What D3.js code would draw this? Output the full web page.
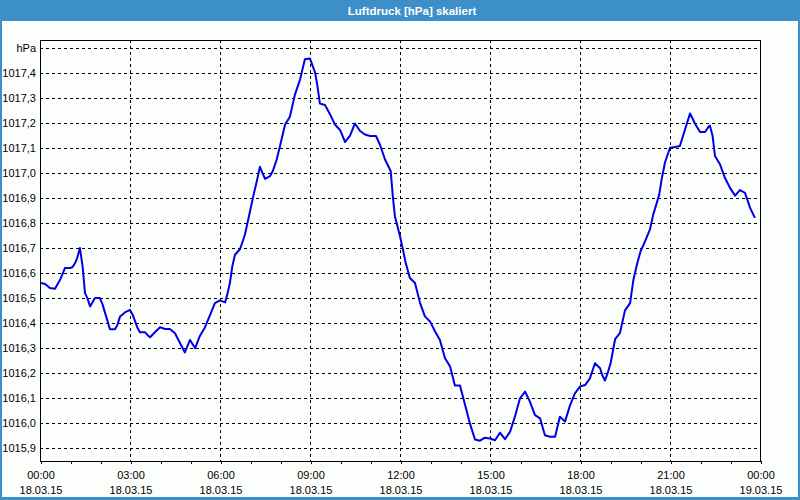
<!DOCTYPE html>
<html><head><meta charset="utf-8">
<script src="https://cdn.jsdelivr.net/npm/d3@7/dist/d3.min.js"></script>
<style>
html,body{margin:0;padding:0;background:#fcfefc;}
svg{display:block;}
text{font-family:"Liberation Sans",Arial,sans-serif;}
</style></head>
<body>
<svg id="c" width="800" height="500"></svg>
<script>
const title = "Luftdruck [hPa] skaliert";
const unitLabel = "hPa";
// hours since 18.03.15 00:00
const hours = [0.03,0.17,0.33,0.5,0.67,0.83,1.0,1.08,1.17,1.24,1.33,1.42,1.5,1.58,1.67,1.83,2.0,2.09,2.17,2.24,2.33,2.5,2.58,2.67,2.83,3.0,3.09,3.17,3.24,3.33,3.5,3.58,3.67,3.83,4.0,4.17,4.33,4.5,4.67,4.83,5.0,5.17,5.33,5.5,5.67,5.83,6.0,6.17,6.24,6.33,6.41,6.5,6.67,6.83,6.94,7.11,7.24,7.33,7.5,7.67,7.76,7.89,8.0,8.17,8.33,8.5,8.67,8.83,9.0,9.17,9.24,9.33,9.5,9.67,9.83,10.0,10.17,10.33,10.5,10.67,10.83,11.0,11.2,11.33,11.5,11.69,11.76,11.83,12.0,12.11,12.19,12.33,12.5,12.67,12.83,13.0,13.17,13.33,13.5,13.67,13.83,14.0,14.17,14.33,14.5,14.67,14.83,15.0,15.17,15.33,15.5,15.67,15.83,16.0,16.17,16.33,16.5,16.67,16.83,17.0,17.17,17.33,17.5,17.67,17.83,18.0,18.17,18.33,18.5,18.67,18.74,18.83,18.92,19.02,19.17,19.33,19.5,19.67,19.78,19.91,20.02,20.17,20.33,20.44,20.56,20.64,20.72,20.83,21.0,21.17,21.33,21.5,21.67,21.83,22.0,22.17,22.26,22.33,22.42,22.5,22.67,22.83,23.0,23.17,23.33,23.5,23.67,23.83];
const pressure = [1016.560,1016.556,1016.540,1016.537,1016.573,1016.620,1016.620,1016.623,1016.640,1016.660,1016.700,1016.627,1016.520,1016.500,1016.467,1016.500,1016.500,1016.473,1016.440,1016.413,1016.376,1016.376,1016.393,1016.427,1016.443,1016.453,1016.433,1016.407,1016.384,1016.364,1016.364,1016.353,1016.344,1016.364,1016.384,1016.377,1016.377,1016.360,1016.320,1016.283,1016.333,1016.300,1016.349,1016.384,1016.433,1016.480,1016.491,1016.483,1016.513,1016.560,1016.627,1016.673,1016.696,1016.753,1016.813,1016.907,1016.973,1017.024,1016.976,1016.987,1017.007,1017.053,1017.107,1017.193,1017.224,1017.313,1017.373,1017.453,1017.456,1017.400,1017.353,1017.276,1017.271,1017.233,1017.193,1017.171,1017.123,1017.147,1017.197,1017.167,1017.153,1017.147,1017.147,1017.113,1017.053,1017.007,1016.907,1016.827,1016.747,1016.687,1016.640,1016.580,1016.560,1016.480,1016.427,1016.407,1016.367,1016.333,1016.260,1016.227,1016.151,1016.151,1016.073,1016.000,1015.936,1015.931,1015.943,1015.940,1015.933,1015.963,1015.937,1015.967,1016.027,1016.100,1016.127,1016.087,1016.033,1016.020,1015.953,1015.947,1015.947,1016.027,1016.007,1016.073,1016.120,1016.147,1016.153,1016.180,1016.240,1016.220,1016.193,1016.171,1016.200,1016.240,1016.336,1016.360,1016.451,1016.480,1016.573,1016.640,1016.687,1016.727,1016.773,1016.833,1016.880,1016.913,1016.973,1017.040,1017.100,1017.103,1017.107,1017.173,1017.237,1017.197,1017.163,1017.163,1017.180,1017.189,1017.147,1017.067,1017.033,1016.980,1016.940,1016.909,1016.931,1016.920,1016.860,1016.820];
const yTicks = [1015.9,1016.0,1016.1,1016.2,1016.3,1016.4,1016.5,1016.6,1016.7,1016.8,1016.9,1017.0,1017.1,1017.2,1017.3,1017.4,1017.5];
const yTickLabels = ["1015,9","1016,0","1016,1","1016,2","1016,3","1016,4","1016,5","1016,6","1016,7","1016,8","1016,9","1017,0","1017,1","1017,2","1017,3","1017,4","hPa"];
const xTicks = [0,3,6,9,12,15,18,21,24];
const xTimeLabels = ["00:00","03:00","06:00","09:00","12:00","15:00","18:00","21:00","00:00"];
const xDateLabels = ["18.03.15","18.03.15","18.03.15","18.03.15","18.03.15","18.03.15","18.03.15","18.03.15","19.03.15"];
const xMinorTicks = d3.range(0,25,1);

const svg = d3.select("#c");
const L=40,R=760,T=40,B=461;
const x = d3.scaleLinear().domain([0,24]).range([L,R]);
const y = d3.scaleLinear().domain([1015.85,1017.53]).range([B,T]);

// window chrome
svg.append("rect").attr("x",0).attr("y",0).attr("width",800).attr("height",500).attr("fill","#fcfefc");
svg.append("rect").attr("x",0).attr("y",0).attr("width",800).attr("height",21).attr("fill","#3c8fc8");
svg.append("rect").attr("x",0).attr("y",0).attr("width",2).attr("height",500).attr("fill","#3c8fc8");
svg.append("rect").attr("x",798).attr("y",0).attr("width",2).attr("height",500).attr("fill","#3c8fc8");
svg.append("rect").attr("x",0).attr("y",497).attr("width",800).attr("height",3).attr("fill","#3c8fc8");
svg.append("text").attr("x",412).attr("y",15).attr("text-anchor","middle")
  .attr("fill","#ffffff").attr("font-weight","bold").attr("font-size","11.5px").text(title);

// grid
const g = svg.append("g");
g.selectAll(".hg").data(yTicks).enter().append("line")
  .attr("x1",L).attr("x2",R).attr("y1",d=>Math.round(y(d))+0.5).attr("y2",d=>Math.round(y(d))+0.5)
  .attr("stroke","#000").attr("stroke-width",1).attr("stroke-dasharray","3,3").attr("shape-rendering","crispEdges");
g.selectAll(".vg").data(xTicks.slice(1,-1)).enter().append("line")
  .attr("y1",T).attr("y2",B).attr("x1",d=>Math.round(x(d))+0.5).attr("x2",d=>Math.round(x(d))+0.5)
  .attr("stroke","#000").attr("stroke-width",1).attr("stroke-dasharray","3,3").attr("shape-rendering","crispEdges");

// line
const line = d3.line().x((d,i)=>x(hours[i])).y(d=>y(d));
svg.append("path").datum(pressure).attr("d",line).attr("fill","none")
  .attr("stroke","#0000e6").attr("stroke-width",2).attr("stroke-linejoin","round");

// frame
svg.append("rect").attr("x",L+0.5).attr("y",T+0.5).attr("width",R-L).attr("height",B-T-0.5)
  .attr("fill","none").attr("stroke","#000").attr("stroke-width",1).attr("shape-rendering","crispEdges");

// x axis ticks & labels
const xa = d3.axisBottom(x).tickValues(xMinorTicks).tickSize(3).tickFormat("");
const xg = svg.append("g").attr("transform",`translate(0.5,${B})`).call(xa);
xg.select(".domain").remove();
xg.selectAll("line").attr("stroke","#000").attr("shape-rendering","crispEdges");
svg.selectAll(".xt").data(xTicks).enter().append("text")
  .attr("x",d=>x(d)+1).attr("y",479).attr("text-anchor","middle").attr("font-size","11px").attr("fill","#000")
  .text((d,i)=>xTimeLabels[i]);
svg.selectAll(".xd").data(xTicks).enter().append("text")
  .attr("x",d=>x(d)+1).attr("y",494).attr("text-anchor","middle").attr("font-size","11px").attr("fill","#000")
  .text((d,i)=>xDateLabels[i]);

// y labels
svg.selectAll(".yl").data(yTicks).enter().append("text")
  .attr("x",36).attr("y",d=>y(d)+4).attr("text-anchor","end").attr("font-size","11px").attr("fill","#000")
  .text((d,i)=>yTickLabels[i]);
</script>
</body></html>
